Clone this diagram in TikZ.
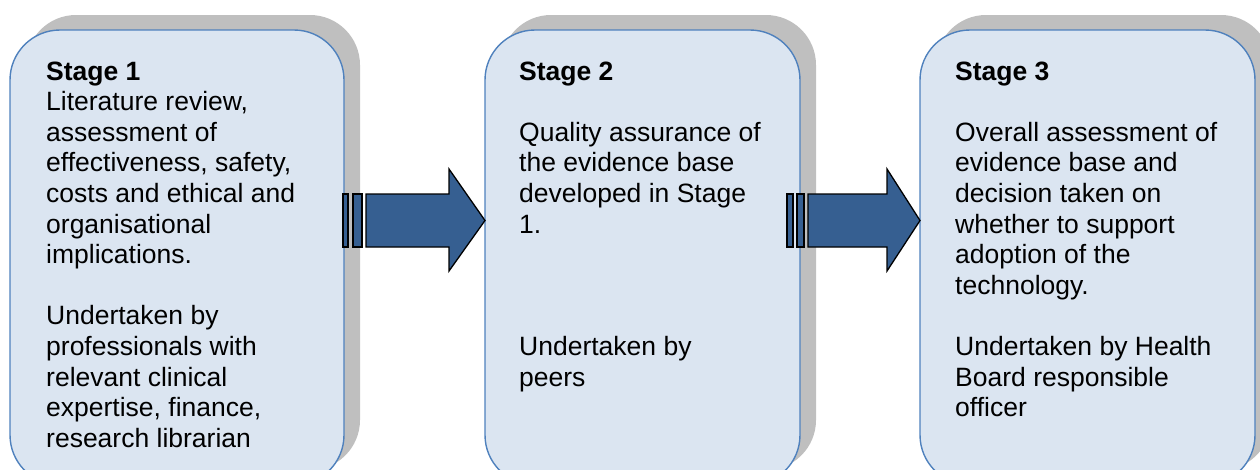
\documentclass[tikz,border=0pt]{standalone}
\usepackage{fontspec}
\setmainfont{Liberation Sans}
\usetikzlibrary{shadows}
\definecolor{boxfill}{HTML}{DBE5F1}
\definecolor{boxline}{HTML}{4F81BD}
\definecolor{shadowgray}{HTML}{BFBFBF}
\definecolor{arrowfill}{HTML}{365F91}
\begin{document}
\begin{tikzpicture}[x=1pt,y=-1pt,
  stagebox/.style={draw=boxline, line width=1.4pt, fill=boxfill, rounded corners=50pt,
    inner sep=0pt, minimum height=455pt,
    drop shadow={shadow xshift=16pt, shadow yshift=15pt, fill=shadowgray, opacity=1}},
  stagetext/.style={anchor=base west, inner sep=0pt, font=\fontsize{26.5}{30.6}\selectfont},
  blockarrow/.style={draw=black, line width=1.3pt, fill=arrowfill, line join=miter}]
\useasboundingbox (0,0) rectangle (1260,469);
\clip (0,0) rectangle (1260,469);
\node[stagebox, minimum width=334pt] (box1) at (177,257.5) {};
\node[stagebox, minimum width=315pt] (box2) at (642.5,257.5) {};
\node[stagebox, minimum width=335pt] (box3) at (1087.5,257.5) {};

\node[stagetext] (t1) at (46,80) {\parbox[t]{300pt}{\raggedright\fontsize{26.5}{30.6}\selectfont
\textbf{Stage 1}\\
Literature review,\\
assessment of\\
effectiveness, safety,\\
costs and ethical and\\
organisational\\
implications.\\
\mbox{}\\
Undertaken by\\
professionals with\\
relevant clinical\\
expertise, finance,\\
research librarian}};

\node[stagetext] (t2) at (519,80) {\parbox[t]{280pt}{\raggedright\fontsize{26.5}{30.6}\selectfont
\textbf{Stage 2}\\
\mbox{}\\
Quality assurance of\\
the evidence base\\
developed in Stage\\
1.\\
\mbox{}\\
\mbox{}\\
\mbox{}\\
Undertaken by\\
peers}};

\node[stagetext] (t3) at (955,80) {\parbox[t]{300pt}{\raggedright\fontsize{26.5}{30.6}\selectfont
\textbf{Stage 3}\\
\mbox{}\\
Overall assessment of\\
evidence base and\\
decision taken on\\
whether to support\\
adoption of the\\
technology.\\
\mbox{}\\
Undertaken by Health\\
Board responsible\\
officer}};

% arrow 1
\draw[blockarrow] (343,194) rectangle (348,247);
\draw[blockarrow] (353,194) rectangle (362,247);
\draw[blockarrow] (366,194) -- (449,194) -- (449,169) -- (485,220.5) -- (449,271) -- (449,247) -- (366,247) -- cycle;
% arrow 2
\draw[blockarrow] (787,194) rectangle (793,247);
\draw[blockarrow] (797,194) rectangle (804,247);
\draw[blockarrow] (808,194) -- (887,194) -- (887,169) -- (920,220.5) -- (887,271) -- (887,247) -- (808,247) -- cycle;
\end{tikzpicture}
\end{document}
